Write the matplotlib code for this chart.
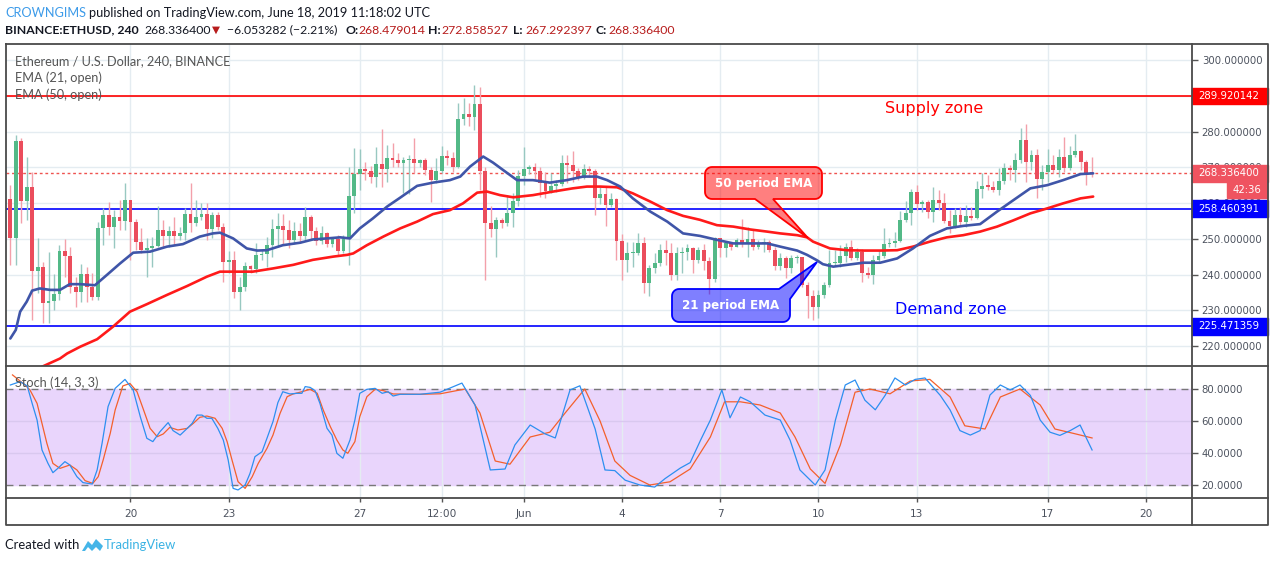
import numpy as np
import matplotlib
matplotlib.use('Agg')
import matplotlib.pyplot as plt
import matplotlib.transforms as mtransforms
from matplotlib.patches import Rectangle, Polygon

#%% data (ETHUSD, 4h candles from May 16 08:00 to Jun 18 08:00)
first_open = 261.0
closes = [
    250.3, 277.3, 260.7, 264.5, 241.1, 242.1, 231.9, 232.6, 234.5, 246.6,
    245.3, 236.6, 235.2, 240.1, 236.6, 233.8, 252.9, 256.6, 253.4, 256.0,
    255.0, 260.8, 254.8, 249.2, 246.9, 247.4, 248.0, 252.4, 250.9, 252.2,
    250.9, 251.5, 256.9, 254.3, 256.0, 256.9, 252.6, 256.6, 253.4, 243.6,
    244.1, 235.2, 236.6, 242.4, 241.6, 245.5, 245.7, 248.2, 252.7, 253.6,
    252.4, 249.7, 252.2, 250.8, 256.2, 252.3, 249.5, 251.5, 248.4, 249.8,
    246.7, 249.8, 262.0, 268.1, 269.4, 269.0, 267.4, 270.9, 269.6, 272.5,
    272.0, 271.3, 272.0, 272.3, 271.3, 272.0, 269.2, 266.3, 269.0, 273.1,
    272.6, 270.0, 283.4, 284.9, 284.2, 287.7, 269.0, 254.5, 252.7, 255.2,
    254.5, 257.1, 260.6, 267.6, 269.4, 270.0, 269.0, 265.7, 263.4, 264.8,
    265.3, 271.1, 270.6, 269.0, 267.1, 269.4, 269.0, 261.5, 262.4, 259.4,
    261.0, 249.4, 244.1, 245.9, 246.1, 248.7, 237.7, 241.7, 243.3, 246.9,
    246.1, 239.9, 246.1, 246.3, 247.3, 244.2, 246.9, 243.8, 238.7, 250.1,
    247.3, 248.7, 247.8, 249.6, 248.5, 249.8, 247.6, 248.9, 249.2, 246.9,
    242.4, 244.5, 241.7, 244.5, 245.0, 237.1, 234.0, 231.0, 234.3, 237.1,
    243.1, 243.3, 245.2, 247.8, 244.5, 246.4, 240.3, 239.8, 244.1, 245.3,
    248.5, 248.9, 249.4, 255.2, 257.3, 263.2, 259.6, 260.4, 257.6, 260.8,
    259.9, 254.9, 253.6, 256.6, 254.8, 256.4, 255.7, 263.9, 264.7, 264.6,
    263.6, 266.2, 269.7, 269.2, 272.0, 277.6, 271.6, 273.4, 266.7, 268.8,
    270.6, 269.2, 273.0, 269.7, 273.4, 274.5, 271.6, 268.5, 268.34]
highs = [
    265.0, 279.0, 278.1, 273.0, 268.8, 250.1, 243.6, 246.4, 240.1, 248.2,
    249.8, 247.8, 239.4, 242.9, 242.2, 240.3, 254.8, 258.5, 260.4, 258.0,
    260.8, 265.5, 260.8, 255.5, 252.9, 250.1, 250.6, 259.2, 255.3, 253.6,
    256.2, 253.4, 258.5, 265.5, 260.8, 260.1, 259.9, 257.6, 257.6, 254.3,
    246.7, 246.7, 239.4, 243.6, 242.6, 248.7, 246.9, 250.6, 255.4, 257.3,
    256.9, 255.2, 254.8, 254.3, 259.0, 256.7, 253.4, 253.6, 252.0, 250.6,
    251.0, 251.0, 270.2, 275.3, 275.1, 271.6, 270.3, 275.6, 280.6, 276.2,
    276.7, 274.1, 272.8, 273.4, 278.1, 272.2, 272.5, 270.2, 272.5, 276.0,
    274.8, 274.4, 287.9, 289.3, 288.1, 293.0, 292.5, 270.0, 259.2, 256.2,
    255.7, 262.2, 262.9, 269.2, 275.6, 270.6, 271.1, 270.0, 268.8, 268.3,
    266.3, 273.4, 273.4, 274.6, 269.7, 270.9, 270.3, 269.4, 264.6, 264.6,
    262.7, 261.3, 251.3, 249.2, 249.2, 251.5, 250.6, 242.7, 246.1, 248.5,
    249.7, 248.7, 247.8, 247.8, 248.5, 247.8, 247.8, 248.5, 245.0, 250.6,
    250.1, 249.2, 249.2, 250.1, 255.4, 253.2, 252.5, 249.6, 250.1, 249.6,
    247.8, 245.9, 245.2, 245.5, 245.5, 245.0, 238.0, 235.7, 235.7, 238.0,
    246.9, 246.9, 248.3, 248.7, 249.6, 247.3, 247.2, 242.2, 245.5, 246.8,
    252.9, 250.1, 252.0, 257.9, 260.6, 263.8, 265.0, 260.8, 260.8, 264.6,
    263.6, 262.7, 258.0, 258.5, 259.0, 259.4, 259.0, 266.2, 268.3, 267.8,
    266.2, 269.7, 271.1, 270.6, 274.1, 280.9, 282.1, 274.8, 275.0, 270.6,
    275.0, 273.4, 275.0, 278.6, 275.9, 279.3, 274.8, 272.0, 272.86]
lows = [
    242.6, 242.6, 254.3, 255.3, 227.3, 234.7, 226.5, 226.3, 230.1, 232.9,
    239.4, 234.7, 231.0, 232.4, 232.4, 232.9, 232.9, 248.2, 251.0, 247.3,
    252.4, 252.4, 244.1, 246.9, 246.1, 239.2, 242.2, 247.6, 247.3, 247.8,
    248.2, 249.6, 249.6, 252.0, 253.6, 255.3, 249.6, 250.1, 252.4, 237.8,
    240.3, 233.3, 230.1, 235.5, 240.5, 240.5, 244.1, 242.0, 245.0, 247.8,
    248.3, 247.3, 248.5, 248.9, 249.7, 249.8, 248.3, 248.5, 247.8, 247.8,
    245.2, 245.9, 242.6, 257.1, 263.6, 266.4, 265.7, 264.6, 264.6, 266.0,
    270.0, 270.0, 262.7, 262.5, 268.3, 270.0, 267.8, 260.4, 265.5, 268.5,
    270.6, 268.8, 269.7, 281.8, 281.5, 280.4, 263.6, 238.5, 250.4, 245.0,
    252.9, 253.6, 253.4, 259.2, 265.0, 268.1, 266.4, 261.6, 261.3, 262.7,
    263.2, 264.8, 265.7, 266.0, 266.4, 266.6, 267.4, 256.7, 259.7, 253.6,
    259.0, 244.1, 238.5, 240.8, 242.2, 245.5, 234.7, 234.0, 240.5, 242.4,
    242.7, 238.5, 238.5, 240.3, 244.2, 240.3, 243.3, 241.3, 234.5, 238.0,
    245.0, 244.8, 246.9, 247.6, 247.8, 245.0, 246.9, 247.0, 246.4, 246.4,
    241.4, 241.3, 238.9, 240.5, 243.1, 236.6, 227.7, 227.3, 227.7, 233.3,
    236.6, 242.5, 242.2, 243.6, 244.0, 244.0, 238.0, 238.9, 237.3, 243.1,
    244.5, 247.8, 247.8, 249.2, 254.8, 253.8, 258.0, 257.6, 255.7, 254.8,
    258.0, 254.3, 251.7, 252.9, 253.8, 253.2, 255.2, 255.4, 261.3, 263.6,
    263.2, 262.2, 265.3, 266.4, 266.0, 271.1, 266.0, 269.2, 261.3, 263.6,
    266.0, 268.5, 267.4, 268.8, 269.2, 273.0, 269.2, 265.0, 267.29]

# EMA lines sampled off the chart (x in candle index)
ema21_x = [0, 1, 1.8, 3, 4, 5.4, 7.3, 9.1, 10.9, 12.8, 15.5, 17.7, 20.1, 22.5, 25.6, 28.7,
           31.6, 34.7, 37.1, 38.4, 40.8, 43.3, 45.2, 47, 49.9, 53.1, 55.4, 58, 60.4, 62.2,
           64, 66.4, 69, 71.4, 74.5, 77.4, 80.5, 82.4, 84.2, 86.6, 88.4, 90.9, 92.8, 95.7,
           98.8, 101.9, 104.9, 107.4, 109.3, 111.7, 114, 117.2, 120.3, 123.2, 126.3, 129.4,
           132.4, 135.5, 138.6, 141, 144.1, 145.9, 147.7, 148.8, 150.7, 153.2, 156.2, 159.3,
           162.4, 165.3, 168.4, 171.5, 174.5, 177.6, 180.7, 183.6, 186.8, 189.9, 192.8, 196,
           198.3]
ema21_v = [222.1, 224.5, 229.6, 232.4, 235.5, 236.1, 235.7, 235.7, 237.3, 237.3, 237.0, 239.9,
           243.1, 246.1, 246.4, 247.8, 248.5, 250.6, 251.5, 251.7, 250.1, 247.3, 246.7, 246.8,
           248.2, 248.9, 249.8, 250.1, 250.4, 250.1, 252.9, 255.7, 259.0, 261.5, 264.8, 265.7,
           266.4, 267.4, 270.2, 273.0, 271.3, 268.5, 266.4, 266.4, 265.7, 266.4, 267.4, 267.4,
           266.4, 264.6, 261.3, 257.6, 254.8, 251.5, 250.8, 249.7, 248.7, 248.7, 248.7, 247.8,
           246.7, 245.5, 244.0, 242.9, 242.2, 242.7, 243.3, 243.3, 244.5, 247.3, 250.8, 252.9,
           253.6, 254.1, 257.6, 260.7, 264.1, 265.0, 266.4, 268.1, 268.3]
ema50_x = [-1, 2.7, 5.8, 9.1, 10.4, 12.8, 15.9, 18.8, 21.9, 25, 28.7, 32.4, 36, 38.4, 40.8,
           44.4, 48.1, 51.8, 55.4, 59.1, 61.7, 62.8, 65.3, 68.3, 71.4, 74.5, 77.4, 80.5, 82.9,
           85.5, 87.3, 89.7, 92.1, 95.7, 99.4, 103, 105.6, 108, 111.1, 114, 117.2, 120.3, 123.2,
           126.3, 129.4, 132.4, 135.5, 138.6, 141, 144.1, 145.9, 147, 150.1, 153.2, 156.2, 159.3,
           162.4, 165.3, 168.4, 171.5, 174.5, 177.6, 180.7, 183.6, 186.8, 189.9, 192.8, 196,
           198.3]
ema50_v = [209.5, 211.8, 214.2, 216.5, 217.9, 219.8, 221.9, 225.4, 229.6, 231.7, 234.3, 236.8,
           239.4, 240.8, 240.8, 240.8, 241.7, 242.7, 244.1, 245.0, 245.5, 245.9, 248.2, 250.6,
           252.9, 254.8, 256.9, 258.0, 259.9, 262.9, 263.2, 262.2, 261.6, 262.2, 263.2, 264.1,
           264.6, 264.6, 264.4, 262.7, 260.4, 258.0, 256.4, 255.3, 253.8, 253.4, 252.6, 252.0,
           251.5, 251.0, 250.4, 249.2, 247.3, 246.8, 246.7, 246.7, 246.8, 247.8, 249.2, 250.4,
           251.0, 252.0, 253.4, 255.1, 257.1, 258.5, 259.9, 261.3, 261.8]

# Stoch (14, 3, 3) sampled off the chart
stoch_k_x = [0, 1.8, 3.1, 4, 4.9, 5.8, 6.9, 7.8, 8.7, 10, 10.9, 12.2, 13.3, 15, 15.9, 16.8,
             17.9, 19.2, 21, 22.5, 23.8, 25, 26.1, 27.4, 28.9, 29.8, 31.1, 32.4, 33.3, 34.2,
             35.1, 36, 36.9, 38, 39, 39.9, 40.8, 41.7, 43, 43.9, 44.8, 46.1, 47, 48.1, 49, 49.9,
             51.2, 52.5, 53.4, 54, 54.9, 55.8, 56.7, 58, 58.9, 59.8, 60.9, 62.2, 63.1, 64, 65.3,
             66.8, 68.1, 69.2, 70.1, 71.4, 75, 78.7, 82.7, 85.1, 87.9, 90.6, 92.4, 95.2, 97.9,
             99.8, 102.5, 104.3, 107.1, 108.9, 110.7, 112.6, 115.3, 118, 119.9, 122.7, 124.5,
             126.4, 128.2, 130.3, 131.8, 133.7, 135.5, 138.2, 141, 142.8, 144.6, 147.4, 149.2,
             151.1, 152.9, 154.7, 156.5, 158.4, 160.2, 162, 163.9, 165.7, 167.5, 170.3, 172.1,
             173.9, 175.8, 177.6, 179.4, 181.3, 183.1, 184.9, 186.8, 188.6, 190.4, 192.2, 194.1,
             195.9, 198.1]
stoch_k_v = [82.5, 84.6, 81.9, 71, 60.6, 41.9, 33.5, 27.7, 30.4, 34.6, 32.5, 25.2, 21.5, 20.6,
             29.4, 46, 69, 80.4, 86, 79.4, 62.7, 49.2, 47.1, 53.3, 59, 54, 51.2, 55.4, 58.5,
             63.7, 63.7, 61.7, 61.7, 55.4, 48.1, 35.6, 17.9, 16.9, 20, 27.3, 37.7, 40.8, 49.2,
             59.6, 71.5, 78.3, 76.9, 77.3, 77.3, 81.5, 81, 79, 71, 55.4, 51.2, 39.8, 36.7, 48.1,
             60.6, 77.3, 79.8, 80.4, 77.3, 78.3, 75.6, 76.7, 76.7, 78, 83.7, 70, 29.4, 30, 45,
             57.5, 52, 49.4, 79.4, 82, 55, 29.4, 29, 23, 20, 18.7, 24, 30.6, 34, 48, 60.6, 79.4,
             62, 75, 72, 63.7, 60.6, 48, 29.4, 20, 29.4, 60.6, 82.5, 85.6, 73, 67, 76, 86.9,
             82.5, 86, 86.9, 76, 66.9, 54, 51.2, 54, 76.2, 82.5, 79.4, 82.5, 76, 60.6, 53, 51,
             54, 57.5, 41.9]
stoch_d_x = [0.4, 2.7, 3.6, 4.9, 5.8, 6.7, 7.8, 9.1, 10.9, 12.2, 13.7, 15.1, 16.1, 17, 18.3,
             19.2, 20.6, 21.9, 23.2, 24.3, 25.6, 26.9, 28, 29.2, 30.7, 32.4, 33.5, 34.7, 36,
             37.5, 38.8, 39.7, 40.6, 41.7, 43, 44.3, 45.4, 47, 48.1, 49.4, 50.7, 51.8, 53.4,
             54.9, 56.2, 57.3, 58.6, 59.8, 60.9, 61.8, 63.1, 64, 65.3, 66.8, 68.3, 70.1, 75,
             78.7, 83.3, 86, 88.8, 91.5, 95.2, 98.8, 101.6, 105.2, 108, 110.7, 113.5, 117.1,
             120.8, 124.5, 128.2, 130.8, 133.7, 137.3, 141, 143.7, 146.5, 149.2, 152, 154.7,
             157.4, 161.1, 164.8, 168.4, 172.1, 174.8, 178.5, 181.3, 184.9, 188.6, 191.3, 195,
             198.1]
stoch_d_v = [88.8, 82.5, 79.4, 71, 58.5, 46, 33.5, 30.4, 32.5, 29.4, 22.7, 21, 25.2, 35.6,
             52.3, 66.9, 81.9, 83.5, 78.3, 67.9, 55.4, 50.2, 51.9, 56, 54.4, 55.4, 58.5, 62.3,
             63.1, 61.7, 55.4, 47.1, 35.6, 22.1, 17.9, 25.2, 33.5, 42.9, 51.2, 64.8, 75.2, 76.9,
             78.3, 79.8, 77.3, 66.9, 56.5, 48.1, 41.9, 39.8, 47.1, 62.7, 75.2, 79.8, 79, 76.9,
             76.7, 77, 80, 65, 35, 33, 50, 53, 65, 80, 60, 35, 26, 20, 22, 30, 50, 72, 72, 70,
             65, 50, 30, 21, 45, 78, 80, 77, 85, 86, 75, 57, 55, 75, 80, 70, 55, 52, 49.4]

supply_level = 289.920142
support_level = 258.460391
demand_level = 225.471359
last_price = 268.3364

price_ticks = [220, 230, 240, 250, 260, 270, 280, 290, 300]
date_pos = [22, 40, 64, 79, 94, 112, 130, 148, 166, 190, 208]
date_labels = ['20', '23', '27', '12:00', 'Jun', '4', '7', '10', '13', '17', '20']
stoch_ticks = [20, 40, 60, 80]

#%% figure layout (pixel based)
W, H = 1274, 562
fig = plt.figure(figsize=(W / 100, H / 100), dpi=100)
narrow = ['Lato', 'DejaVu Sans']

def fx(px):
    return px / W

def fy(py):
    return 1 - py / H

grid_c = '#e4ecf1'
txt_c = '#4c525e'

ax = fig.add_axes([fx(6), fy(366), fx(1192) - fx(6), fy(44) - fy(366)])
st = fig.add_axes([fx(6), fy(498), fx(1192) - fx(6), fy(366) - fy(498)])
ov = fig.add_axes([0, 0, 1, 1], zorder=10)
ov.set_xlim(0, W)
ov.set_ylim(H, 0)
ov.axis('off')
ov.patch.set_alpha(0)

#%% price panel
o = np.r_[first_open, closes[:-1]]
c = np.array(closes)
h = np.maximum(np.array(highs), np.maximum(o, c))
l = np.minimum(np.array(lows), np.minimum(o, c))
idx = np.arange(len(c))
up = c >= o

ax.set_xlim(-0.79, 216.4)
ax.set_ylim(214.41, 304.48)
for t in price_ticks:
    ax.axhline(t, color=grid_c, lw=1, zorder=0)
for t in date_pos:
    ax.axvline(t, color=grid_c, lw=1, zorder=0)

ax.axhline(supply_level, color='#ff0000', lw=1.2, zorder=1)
ax.axhline(support_level, color='#0000ff', lw=1.2, zorder=1)
ax.axhline(demand_level, color='#0000ff', lw=1.2, zorder=1)
ax.axhline(last_price, color='#ef5350', lw=1, ls=(0, (2, 2)), zorder=1)

wick_c = np.where(up, '#98c8c1', '#f3a0aa')
body_c = np.where(up, '#53b987', '#eb4d5c')
ax.vlines(idx, l, h, colors=wick_c, lw=1, zorder=2)
ax.bar(idx, np.maximum(np.abs(c - o), 0.3), bottom=np.minimum(o, c), width=0.7,
       color=body_c, zorder=3)

ax.plot(ema50_x, ema50_v, color='#ff1a1a', lw=1.9, zorder=4, solid_capstyle='round')
ax.plot(ema21_x, ema21_v, color='#3f55a8', lw=1.9, zorder=4, solid_capstyle='round')

ax.set_xticks(date_pos)
ax.tick_params(axis='x', length=0, labelbottom=False)
ax.yaxis.tick_right()
ax.set_yticks(price_ticks)
# the 290 label sits fully under the supply-level box, as on the original
ax.set_yticklabels(['' if t == 290 else f'{t:.6f}' for t in price_ticks])
ax.tick_params(axis='y', length=4, width=1, color='#555555', labelcolor=txt_c,
               labelsize=7.3, pad=3)
for s in ax.spines.values():
    s.set_visible(False)

# coloured price labels on the scale
bl = mtransforms.blended_transform_factory(ax.transAxes, ax.transData)
box_w = (1268 - 1192) / (1192 - 6)
text_x = (1198 - 6) / (1192 - 6)
for val, col in [(supply_level, '#ff0000'), (last_price, '#ef5360'),
                 (support_level, '#0000ff'), (demand_level, '#0000ff')]:
    ax.add_patch(Rectangle((1.0, val - 2.35), box_w, 4.7, transform=bl, color=col,
                           clip_on=False, zorder=6))
    ax.text(text_x, val, f'{val:.6f}', transform=bl, color='white', fontsize=7.3,
            va='center', ha='left', clip_on=False, zorder=7)
cd_x = (1227 - 6) / (1192 - 6)
cd_w = (1267 - 1227) / (1192 - 6)
cd_y = 300 - (190 - 60) / 3.575
ax.add_patch(Rectangle((cd_x, cd_y - 2.25), cd_w, 4.5, transform=bl, color='#ef5360',
                       clip_on=False, zorder=6))
ax.text(cd_x + cd_w / 2, cd_y, '42:36', transform=bl, color='white', fontsize=7.3,
        va='center', ha='center', clip_on=False, zorder=7)

#%% stoch panel
st.set_xlim(-0.79, 216.4)
st.set_ylim(11.875, 94.375)
st.axhspan(20, 80, color='#e9d5fc', zorder=0)
for t in date_pos:
    st.axvline(t, color=grid_c, lw=1, zorder=1)
for t in [40, 60]:
    st.axhline(t, color='#d9c8ef', lw=1, zorder=1)
for t in [20, 80]:
    st.axhline(t, color='#787878', lw=1, ls=(0, (5, 4)), zorder=2)
st.plot(stoch_d_x, stoch_d_v, color='#f4602c', lw=0.9, zorder=3)
st.plot(stoch_k_x, stoch_k_v, color='#2d8ff0', lw=0.9, zorder=4)
st.yaxis.tick_right()
st.set_yticks(stoch_ticks)
st.set_yticklabels([f'{t:.4f}' for t in stoch_ticks])
st.tick_params(axis='y', length=4, width=1, color='#555555', labelcolor=txt_c,
               labelsize=7.3, pad=3)
st.set_xticks(date_pos)
st.set_xticklabels(date_labels)
st.tick_params(axis='x', length=3, width=1, color='#555555', labelcolor=txt_c,
               labelsize=7.6, pad=5)
for s in st.spines.values():
    s.set_visible(False)

#%% frame lines
fc = '#4a4a4a'
ov.plot([6, 1268, 1268, 6, 6], [44, 44, 525, 525, 44], color=fc, lw=1.3)
ov.plot([1192, 1192], [44, 525], color=fc, lw=1.3)
ov.plot([6, 1268], [366, 366], color=fc, lw=1.3)
ov.plot([6, 1268], [498, 498], color=fc, lw=1.3)

#%% texts
hs = 9.2
ov.text(5, 13, 'CROWNGIMS', color='#3d9be9', fontsize=hs, family=narrow, va='center')
ov.text(89, 13, 'published on TradingView.com, June 18, 2019 11:18:02 UTC', color='#131722',
        fontsize=hs, family=narrow, va='center')
hs2 = 8.8
hdr = [(5, 'BINANCE:ETHUSD, 240', '#131722', 'bold'), (144, '268.336400', '#131722', 'normal'),
       (212, '\u25bc', '#b71c1c', 'normal'), (227, '\u22126.053282 (\u22122.21%)', '#131722', 'normal'),
       (345, 'O:', '#131722', 'bold'), (358, '268.479014', '#b71c1c', 'normal'),
       (428, 'H:', '#131722', 'bold'), (441, '272.858527', '#b71c1c', 'normal'),
       (513, 'L:', '#131722', 'bold'), (525, '267.292397', '#b71c1c', 'normal'),
       (595, 'C:', '#131722', 'bold'), (608, '268.336400', '#b71c1c', 'normal')]
for xp, s, col, wt in hdr:
    fs = 7.5 if s == '\u25bc' else hs2
    ov.text(xp, 30, s, color=col, fontsize=fs, family=narrow, weight=wt, va='center')

ov.text(15, 61, 'Ethereum / U.S. Dollar, 240, BINANCE', color='#555555', fontsize=9.2,
        family=narrow, va='center')
ov.text(15, 78, 'EMA (21, open)', color='#555555', fontsize=9.2, family=narrow, va='center')
ov.text(15, 95, 'EMA (50, open)', color='#555555', fontsize=9.2, family=narrow, va='center')
ov.text(15, 383, 'Stoch (14, 3, 3)', color='#555555', fontsize=9.2, family=narrow, va='center')

ov.text(934, 109, 'Supply zone', color='#ff0000', fontsize=11.5, ha='center', va='center')
ov.text(951, 309, 'Demand zone', color='#0000ff', fontsize=11.5, ha='center', va='center')


def callout(x0, y0, x1, y1, r, insert, where):
    # rounded box as a polygon, pointer vertices inserted at one edge
    def arc(cx, cy, a0, a1):
        a = np.radians(np.linspace(a0, a1, 8))
        return list(zip(cx + r * np.cos(a), cy + r * np.sin(a)))
    pts = [(x0 + r, y0)]
    if where == 'topright':
        pts += insert
    else:
        pts += [(x1 - r, y0)]
        pts += arc(x1 - r, y0 + r, -90, 0)
    pts += [(x1, y1 - r)]
    pts += arc(x1 - r, y1 - r, 0, 90)
    if where == 'bottom':
        pts += insert
    pts += [(x0 + r, y1)]
    pts += arc(x0 + r, y1 - r, 90, 180)
    pts += [(x0, y0 + r)]
    pts += arc(x0 + r, y0 + r, 180, 270)
    return pts


red_pts = callout(705, 167, 822, 199, 7, [(773, 199), (808, 238), (755, 199)], 'bottom')
ov.add_patch(Polygon(red_pts, closed=True, fc=(1, 0, 0, 0.5), ec='#ff0000', lw=1.3))
ov.text(763.5, 183, '50 period EMA', color='white', fontsize=8.6, weight='bold',
        ha='center', va='center')
blue_pts = callout(672, 289, 790, 322, 7, [(779, 289), (817, 262), (790, 299)], 'topright')
ov.add_patch(Polygon(blue_pts, closed=True, fc=(0, 0, 1, 0.5), ec='#0000ff', lw=1.3))
ov.text(731, 305.5, '21 period EMA', color='white', fontsize=8.6, weight='bold',
        ha='center', va='center')

# footer
ov.text(5, 545, 'Created with', color='#131722', fontsize=9.4, family=narrow, va='center')
logo = [(82, 551), (88, 541), (92, 545), (96, 539), (103, 546), (100, 551), (96, 547),
        (92, 551), (88, 547), (85, 551)]
ov.add_patch(Polygon(logo, closed=True, fc='#45b5e8', ec='none'))
ov.text(104, 545, 'TradingView', color='#3bb3e4', fontsize=9.4, family=narrow, va='center')

fig.savefig('out.png', dpi=100)
